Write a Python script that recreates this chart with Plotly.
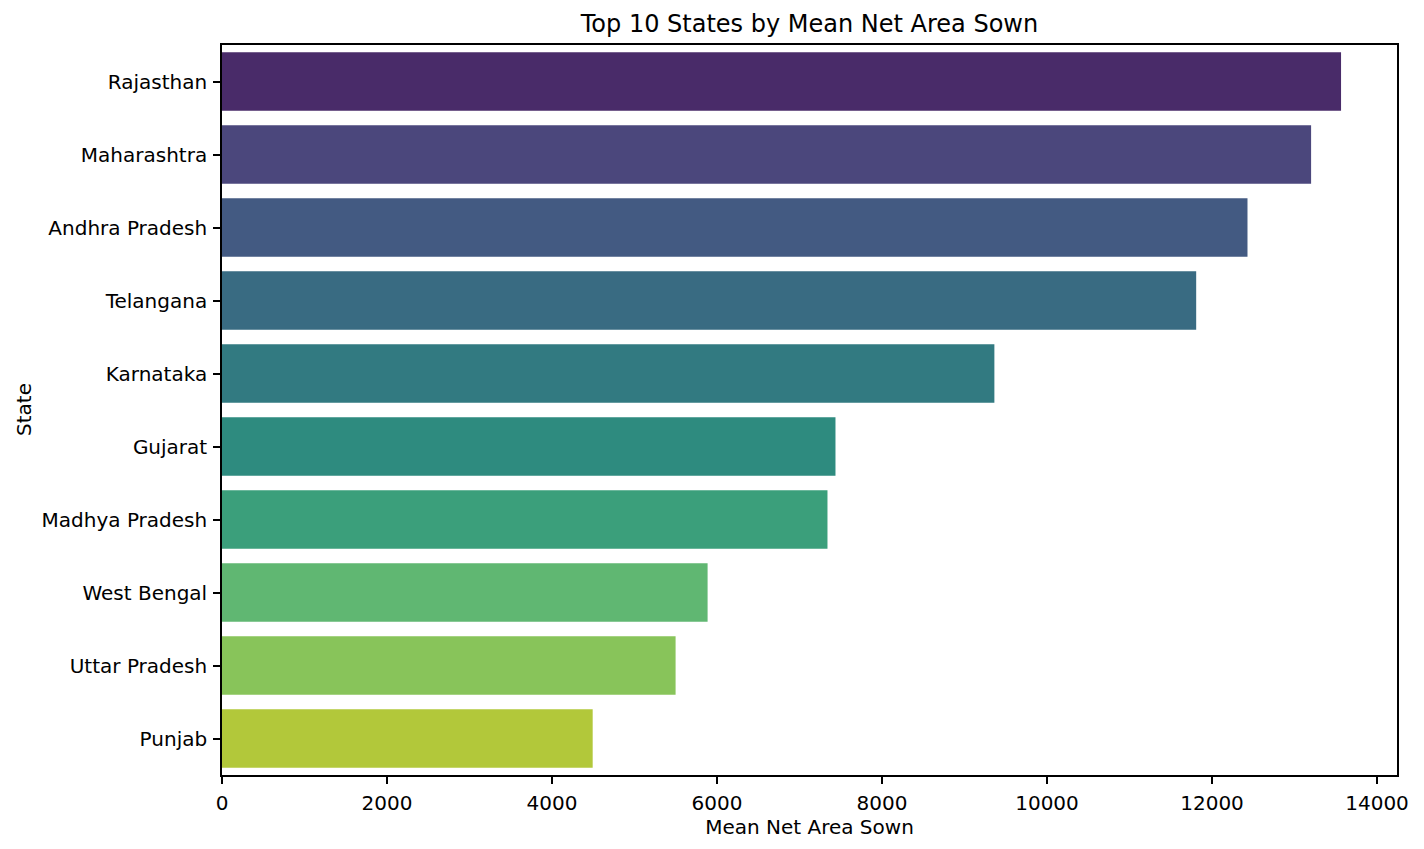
import colorsys
import plotly.graph_objects as go

states = ["Rajasthan", "Maharashtra", "Andhra Pradesh", "Telangana", "Karnataka",
          "Gujarat", "Madhya Pradesh", "West Bengal", "Uttar Pradesh", "Punjab"]
mean_net_area_sown = [13564, 13201, 12430, 11808, 9362, 7436, 7339, 5886, 5498, 4493]
x_tick_values = [0, 2000, 4000, 6000, 8000, 10000, 12000, 14000]
x_tick_labels = ["0", "2000", "4000", "6000", "8000", "10000", "12000", "14000"]

# seaborn "viridis" palette (10 colours), desaturated by 0.75 like seaborn's barplot
viridis_base = ["#482173", "#433e85", "#38588c", "#2d708e", "#25858e",
                "#1e9b8a", "#2ab07f", "#52c569", "#86d549", "#c2df23"]


def desaturate(hex_color, prop=0.75):
    r, g, b = (int(hex_color[i:i + 2], 16) / 255 for i in (1, 3, 5))
    h, l, s = colorsys.rgb_to_hls(r, g, b)
    r, g, b = colorsys.hls_to_rgb(h, l, s * prop)
    return "#%02x%02x%02x" % (round(r * 255), round(g * 255), round(b * 255))


colors = [desaturate(c) for c in viridis_base]

FONT = "DejaVu Sans"
TICK_SIZE = 20
PLOT_LEFT, PLOT_RIGHT = 222, 1397

fig = go.Figure(go.Bar(
    x=mean_net_area_sown,
    y=states,
    orientation="h",
    marker=dict(color=colors, line=dict(width=0)),
    width=0.8,
))

fig.update_layout(
    width=1424,
    height=849,
    margin=dict(l=PLOT_LEFT, r=1424 - PLOT_RIGHT, t=45, b=74),
    paper_bgcolor="white",
    plot_bgcolor="white",
    font=dict(family=FONT, size=TICK_SIZE, color="black"),
    showlegend=False,
    title=dict(
        text="Top 10 States by Mean Net Area Sown",
        font=dict(family=FONT, size=24, color="black"),
        x=(PLOT_LEFT + PLOT_RIGHT) / 2 / 1424, xanchor="center", xref="container",
        y=1 - 24 / 849, yanchor="middle", yref="container",
    ),
    xaxis=dict(
        range=[0, max(mean_net_area_sown) * 1.05],
        tickmode="array",
        tickvals=x_tick_values,
        ticktext=x_tick_labels,
        showgrid=False,
        zeroline=False,
        showline=True,
        linecolor="black",
        linewidth=1.6,
        mirror=True,
        ticks="outside",
        ticklen=7,
        tickwidth=1.6,
        tickcolor="black",
        ticklabelstandoff=2,
        tickfont=dict(family=FONT, size=TICK_SIZE, color="black"),
        title=dict(text="Mean Net Area Sown", standoff=6,
                   font=dict(family=FONT, size=TICK_SIZE, color="black")),
    ),
    yaxis=dict(
        autorange=False,
        range=[9.5, -0.5],
        showgrid=False,
        zeroline=False,
        showline=True,
        linecolor="black",
        linewidth=1.6,
        mirror=True,
        ticks="outside",
        ticklen=7,
        tickwidth=1.6,
        tickcolor="black",
        ticklabelstandoff=2,
        tickfont=dict(family=FONT, size=TICK_SIZE, color="black"),
    ),
    annotations=[dict(
        text="State",
        xref="paper", yref="paper",
        x=(24 - PLOT_LEFT) / (PLOT_RIGHT - PLOT_LEFT), y=0.5,
        xanchor="center", yanchor="middle",
        textangle=-90, showarrow=False,
        font=dict(family=FONT, size=TICK_SIZE, color="black"),
    )],
)

fig.write_html("out.html")
